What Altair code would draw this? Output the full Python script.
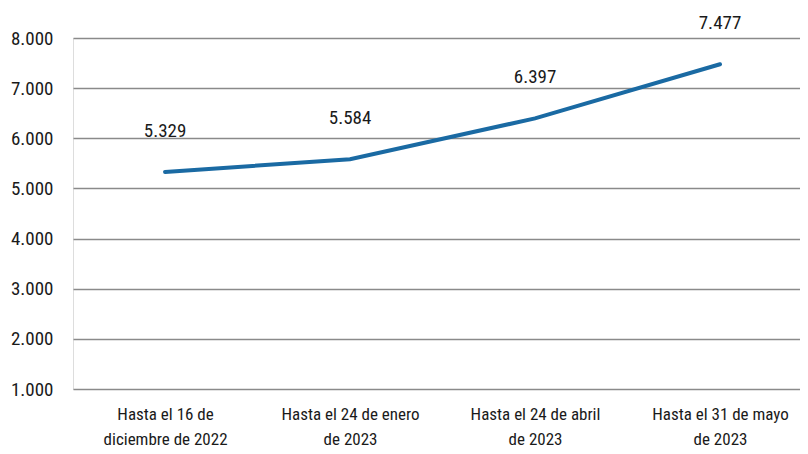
import altair as alt
import pandas as pd

categories = [
    "Hasta el 16 de\ndiciembre de 2022",
    "Hasta el 24 de enero\nde 2023",
    "Hasta el 24 de abril\nde 2023",
    "Hasta el 31 de mayo\nde 2023",
]
values = [5329, 5584, 6397, 7477]
labels = ["5.329", "5.584", "6.397", "7.477"]
y_ticks = [1000, 2000, 3000, 4000, 5000, 6000, 7000, 8000]

df = pd.DataFrame({"cat": categories, "val": values, "lab": labels})

FONT = "Roboto Condensed, Roboto, sans-serif"

x = alt.X(
    "cat:N",
    sort=categories,
    title=None,
    scale=alt.Scale(type="point", padding=0.465, align=0.535),
    axis=alt.Axis(
        labelExpr="split(datum.label, '\\n')",
        labelAngle=0,
        labelFont=FONT,
        labelFontSize=17,
        labelColor="#1a1a1a",
        labelLineHeight=25,
        labelPadding=17,
        domain=False,
        ticks=False,
        grid=False,
        labelBaseline="top",
    ),
)
y = alt.Y(
    "val:Q",
    title=None,
    scale=alt.Scale(domain=[1000, 8000], nice=False, zero=False),
    axis=alt.Axis(
        values=y_ticks,
        labelExpr="replace(format(datum.value, ','), ',', '.')",
        labelFont=FONT,
        labelFontSize=19,
        labelColor="#1a1a1a",
        labelPadding=20,
        domain=False,
        ticks=False,
        grid=True,
        gridColor="#8a8a8a",
        gridWidth=1.5,
    ),
)

line = alt.Chart(df).mark_line(
    color="#1a6aa3", strokeWidth=4, interpolate="linear", strokeCap="round"
).encode(x=x, y=y)

text = alt.Chart(df).mark_text(
    font=FONT, fontSize=19, color="#1a1a1a", dy=-41, baseline="middle"
).encode(x=x, y=y, text="lab:N")

chart = (
    alt.layer(line, text)
    .properties(
        width=727,
        height=351,
        autosize=alt.AutoSizeParams(type="none"),
        padding={"left": 65, "top": 30, "right": 0, "bottom": 60},
    )
    .configure_view(stroke=None)
    .configure(background="white")
)

chart.save("out.html", embed_options={"renderer": "svg", "actions": False})
